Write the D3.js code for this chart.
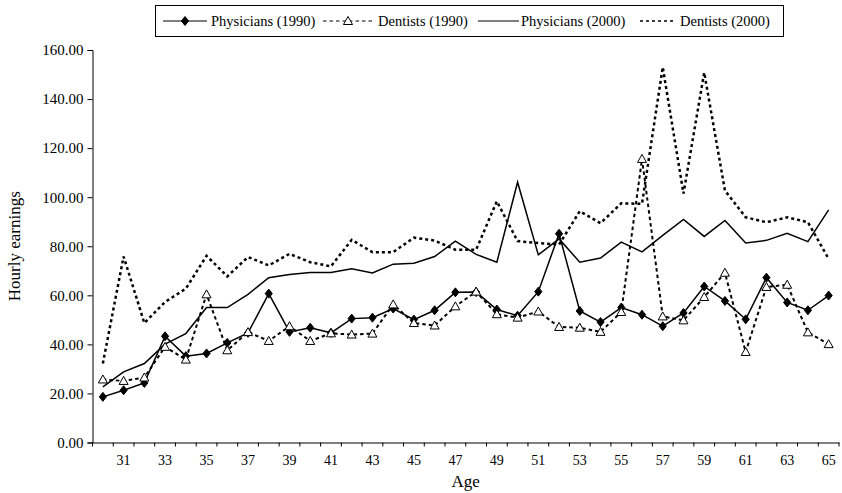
<!DOCTYPE html>
<html>
<head>
<meta charset="utf-8">
<script src="https://cdn.jsdelivr.net/npm/d3@7"></script>
<style>
  html, body { margin: 0; padding: 0; background: #fff; }
  svg { display: block; }
  text { font-family: "Liberation Serif", "Times New Roman", serif; fill: #000; }
</style>
</head>
<body>
<svg id="chart" width="842" height="493"></svg>
<script>
// Hourly earnings by age, physicians and dentists, 1990 and 2000
const ages = d3.range(30, 66);
const physicians1990 = [18.6, 21.3, 24.3, 43.3, 35.2, 36.3, 40.6, 44.7, 60.7, 45.1, 46.8, 44.7, 50.5, 50.9, 54.6, 50.1, 53.9, 61.2, 61.3, 54.2, 51.7, 61.5, 85.1, 53.6, 49.1, 55.0, 52.1, 47.4, 52.8, 63.6, 57.7, 50.2, 67.2, 57.1, 53.9, 59.9];
const dentists1990 = [25.7, 25.1, 26.5, 39.0, 33.8, 60.4, 37.6, 45.0, 41.4, 47.4, 41.4, 44.5, 44.0, 44.4, 56.3, 48.7, 47.7, 55.5, 61.5, 52.3, 50.9, 53.4, 47.1, 46.8, 45.1, 53.2, 115.6, 51.4, 49.8, 59.3, 69.2, 36.9, 63.4, 64.3, 44.9, 40.1];
const physicians2000 = [22.7, 28.8, 32.2, 40.1, 44.4, 55.0, 55.0, 60.4, 67.2, 68.5, 69.3, 69.3, 70.8, 69.1, 72.7, 73.1, 75.8, 82.1, 76.7, 73.5, 106.1, 76.5, 83.0, 73.5, 75.2, 81.7, 77.7, 84.4, 90.9, 84.0, 90.5, 81.3, 82.4, 85.3, 81.9, 94.8];
const dentists2000 = [32.2, 75.8, 48.7, 57.3, 62.7, 76.1, 67.7, 75.6, 72.2, 76.9, 73.5, 71.8, 82.6, 77.6, 77.6, 83.5, 82.3, 78.6, 78.6, 98.3, 82.1, 81.3, 80.7, 94.3, 89.4, 97.5, 97.3, 153.0, 101.5, 150.8, 102.7, 91.8, 89.8, 91.8, 89.8, 74.9];
const yTicks = [0, 20, 40, 60, 80, 100, 120, 140, 160];
const xTickLabels = ages.filter(a => a % 2 === 1);

const series = [
  { name: "Physicians (1990)", values: physicians1990, width: 1.5, dash: null, marker: "diamond" },
  { name: "Dentists (1990)", values: dentists1990, width: 2, dash: "3.5,3", marker: "triangle" },
  { name: "Physicians (2000)", values: physicians2000, width: 1.5, dash: null, marker: null },
  { name: "Dentists (2000)", values: dentists2000, width: 2.5, dash: "3,3", marker: null }
];

const svg = d3.select("#chart");
const m = { left: 92.5, right: 839, top: 50, bottom: 442.5 };

const x = d3.scaleBand().domain(ages).range([m.left, m.right]).padding(0);
const y = d3.scaleLinear().domain([0, 160]).range([m.bottom, m.top]);
const cx = a => x(a) + x.bandwidth() / 2;

// Y axis
const yAxis = svg.append("g")
  .attr("transform", `translate(${m.left},0)`)
  .call(d3.axisLeft(y).tickValues(yTicks).tickFormat(d3.format(".2f")).tickSize(5).tickPadding(4));
yAxis.select(".domain").attr("stroke", "#000").attr("stroke-width", 1);
yAxis.selectAll(".tick line").attr("stroke", "#000");
yAxis.selectAll("text").style("font-size", "15px").attr("fill", "#000");

// X axis: labels on every other age, tick marks between categories
const xAxis = svg.append("g")
  .attr("transform", `translate(0,${m.bottom})`)
  .call(d3.axisBottom(x).tickValues(xTickLabels).tickSize(0).tickPadding(13).tickSizeOuter(0));
xAxis.select(".domain").attr("stroke", "#000").attr("stroke-width", 1);
xAxis.selectAll("text").style("font-size", "14px").attr("fill", "#000");
const edges = ages.map(a => x(a)).concat([x(ages[ages.length - 1]) + x.bandwidth()]);
svg.append("g").selectAll("line").data(edges).join("line")
  .attr("x1", d => d).attr("x2", d => d)
  .attr("y1", m.bottom).attr("y2", m.bottom + 4)
  .attr("stroke", "#000").attr("stroke-width", 1);

// Axis titles
svg.append("text")
  .attr("transform", `translate(20,${(m.top + m.bottom) / 2}) rotate(-90)`)
  .attr("text-anchor", "middle")
  .style("font-size", "17px")
  .text("Hourly earnings");
svg.append("text")
  .attr("x", (m.left + m.right) / 2).attr("y", 487)
  .attr("text-anchor", "middle")
  .style("font-size", "17px")
  .text("Age");

// Lines
const line = d3.line().x((d, i) => cx(ages[i])).y(d => y(d));
series.forEach(s => {
  svg.append("path")
    .datum(s.values)
    .attr("fill", "none")
    .attr("stroke", "#000")
    .attr("stroke-width", s.width)
    .attr("stroke-dasharray", s.dash)
    .attr("stroke-linejoin", "miter")
    .attr("d", line);
});

// Markers
const diamond = "M0,-4.5L3.6,0L0,4.5L-3.6,0Z";
const triangle = "M0,-4.5L4.5,3.5L-4.5,3.5Z";
series.forEach(s => {
  if (!s.marker) return;
  svg.append("g").selectAll("path").data(s.values).join("path")
    .attr("transform", (d, i) => `translate(${cx(ages[i])},${y(d)})`)
    .attr("d", s.marker === "diamond" ? diamond : triangle)
    .attr("fill", s.marker === "diamond" ? "#000" : "#fff")
    .attr("stroke", "#000")
    .attr("stroke-width", 1);
});

// Legend
const legend = svg.append("g");
legend.append("rect")
  .attr("x", 155.5).attr("y", 5.5).attr("width", 628).attr("height", 31)
  .attr("fill", "#fff").attr("stroke", "#000").attr("stroke-width", 1);
const legendItems = [
  { x0: 163, x1: 207, tx: 211 },
  { x0: 323, x1: 373, tx: 378 },
  { x0: 478, x1: 519, tx: 521 },
  { x0: 640, x1: 676, tx: 680 }
];
const ly = 21;
series.forEach((s, i) => {
  const it = legendItems[i];
  legend.append("line")
    .attr("x1", it.x0).attr("x2", it.x1).attr("y1", ly).attr("y2", ly)
    .attr("stroke", "#000")
    .attr("stroke-width", i === 3 ? 1.5 : 1.2)
    .attr("stroke-dasharray", s.dash);
  if (s.marker) {
    legend.append("path")
      .attr("transform", `translate(${(it.x0 + it.x1) / 2},${ly})`)
      .attr("d", s.marker === "diamond" ? diamond : triangle)
      .attr("fill", s.marker === "diamond" ? "#000" : "#fff")
      .attr("stroke", "#000").attr("stroke-width", 1);
  }
  legend.append("text")
    .attr("x", it.tx).attr("y", ly + 5)
    .style("font-size", "14.5px")
    .text(s.name);
});
</script>
</body>
</html>
